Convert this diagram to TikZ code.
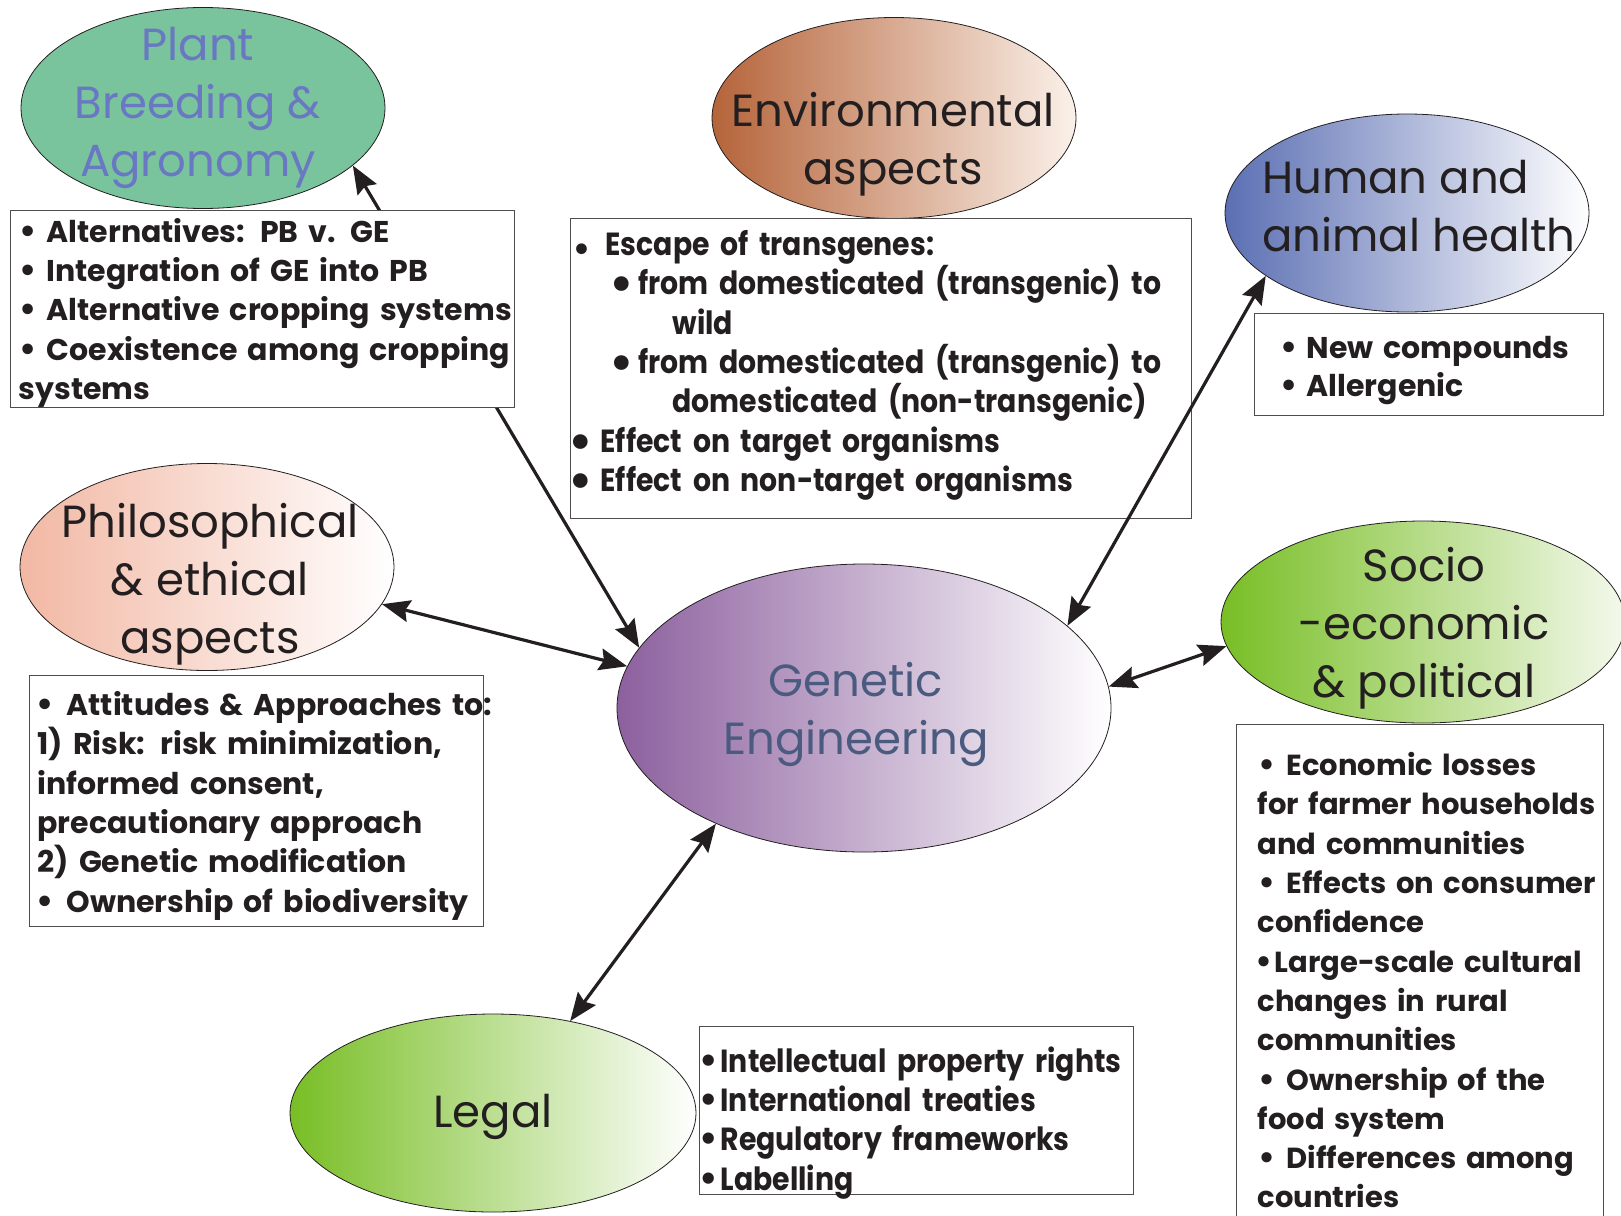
\documentclass[tikz,border=0pt]{standalone}
\usepackage{fontspec}
\setmainfont{Poppins}
\newfontfamily\condf[FakeStretch=0.885]{Poppins}
\newfontfamily\dejav{DejaVu Sans}
\usetikzlibrary{shapes.geometric,arrows.meta}
\definecolor{pbfill}{HTML}{79C39D}
\definecolor{pbtext}{HTML}{6A78C4}
\definecolor{envL}{HTML}{B5643A}
\definecolor{envR}{HTML}{FBF1EA}
\definecolor{humL}{HTML}{5B6FB3}
\definecolor{phiL}{HTML}{F2B8A4}
\definecolor{geL}{HTML}{8C609E}
\definecolor{getext}{HTML}{4B5B7F}
\definecolor{grL}{HTML}{78BE25}
\definecolor{grR}{HTML}{F4F9EC}
\definecolor{ink}{HTML}{231F20}
\newcommand\bul{{\dejav •}}
% bullet centred #1 pt from the left of the text column, text #2 pt further on
\newcommand\bi[2]{\hspace*{#1pt}\makebox[0pt]{\bul}\hspace*{#2pt}}
\newcommand\bbi[2]{\hspace*{#1pt}\makebox[0pt]{\raisebox{-5pt}{\scalebox{1.3}{\bul}}}\hspace*{#2pt}}
\newcommand\sbi[2]{\hspace*{#1pt}\makebox[0pt]{\raisebox{-5pt}{\scalebox{0.95}{\bul}}}\hspace*{#2pt}}
% first line (strut height), middle line, last line (strut depth)
\newcommand\Lf[2]{\mbox{\rule{0pt}{#1pt}\smash{#2}}}
\newcommand\Lm[1]{\mbox{\smash{#1}}}
\newcommand\Ll[2]{\mbox{\rule[-#1pt]{0pt}{#1pt}\smash{#2}}}
\tikzset{
  ell/.style={ellipse, draw=ink, line width=0.8pt, inner sep=0pt},
  title/.style={font=\fontsize{45}{58}\selectfont, text=ink, align=center, inner sep=0pt},
  txtbox/.style={draw=ink!80, line width=1.2pt, fill=white, anchor=north west, align=left,
     inner ysep=0pt, text=ink},
  conn/.style={line width=3.2pt, draw=ink, <->},
}
\begin{document}
\begin{tikzpicture}[x=1pt, y=-1pt, >={Stealth[length=28pt,width=22pt,inset=4pt]}]
\useasboundingbox[fill=white] (0,0) rectangle (1621,1215);

% ellipses
\node[ell, fill=pbfill, minimum width=364pt, minimum height=201pt] (pb) at (203,108) {};
\node[ell, left color=envL, right color=envR, minimum width=364pt, minimum height=201pt] (env) at (894,118) {};
\node[ell, left color=humL, right color=white, minimum width=364pt, minimum height=198pt] (hum) at (1407,213) {};
\node[ell, left color=phiL, right color=white, minimum width=374pt, minimum height=207pt] (phi) at (207,567) {};
\node[ell, left color=geL, right color=white, minimum width=494pt, minimum height=288pt] (ge) at (864,708) {};
\node[ell, left color=grL, right color=grR, minimum width=404pt, minimum height=202pt] (soc) at (1423,622) {};
\node[ell, left color=grL, right color=white, minimum width=406pt, minimum height=198pt] (leg) at (493,1113) {};

% titles
\node[title, text=pbtext] (pbt) at (198,108) {Plant\\Breeding \&\\Agronomy};
\node[title] (envt) at (893,144) {Environmental\\aspects};
\node[title, align=left, anchor=west] (humt) at (1262,206) {Human and\\animal health};
\node[title] (phit) at (210,584) {Philosophical\\\& ethical\\aspects};
\node[title, text=getext] (get) at (856,714) {Genetic\\Engineering};
\node[title] (soct) at (1424,628) {Socio\\-economic\\\& political};
\node[title] (legt) at (493,1117) {Legal};

% environmental box (under connectors)
\node[txtbox, font=\condf\bfseries\fontsize{32}{39.3}\selectfont, inner xsep=6pt, text width=609pt] (envb) at (570,217.5) {%
\Lf{37.5}{\sbi{5}{24}Escape of transgenes:}\\
\Lm{\bbi{45}{17}from domesticated (transgenic) to}\\
\Lm{\hspace*{96pt}wild}\\
\Lm{\bbi{45}{17}from domesticated (transgenic) to}\\
\Lm{\hspace*{96pt}domesticated (non-transgenic)}\\
\Lm{\bbi{4}{20}Effect on target organisms}\\
\Ll{27}{\bbi{4}{20}Effect on non-target organisms}};

% connectors
\draw[conn] (pb.-21) -- (ge.165.3);
\draw[conn] (phi.-12) -- (ge.170.3);
\draw[conn] (hum.-156.2) -- (ge.22.8);
\draw[conn] (soc.-173.5) -- (ge.5.1);
\draw[conn] (leg.50.6) -- (ge.-142.6);

% other boxes
\node[txtbox, font=\bfseries\fontsize{30}{39.15}\selectfont, inner xsep=8pt, text width=488pt] (pbb) at (10,209.5) {%
\Lf{32.5}{\bi{9}{19}Alternatives: PB v. GE}\\
\Lm{\bi{9}{19}Integration of GE into PB}\\
\Lm{\bi{9}{19}Alternative cropping systems}\\
\Lm{\bi{9}{19}Coexistence among cropping}\\
\Ll{8.5}{systems}};

\node[txtbox, font=\bfseries\fontsize{30}{37.5}\selectfont, inner xsep=20pt, text width=309pt] (humb) at (1254,313) {%
\Lf{45}{\bi{14}{18}New compounds}\\
\Ll{19.5}{\bi{14}{18}Allergenic}};

\node[txtbox, font=\bfseries\fontsize{30}{39.3}\selectfont, inner xsep=8pt, text width=438pt] (phib) at (29,674.5) {%
\Lf{40.5}{\bi{7}{22}Attitudes \& Approaches to:}\\
\Lm{1) Risk: risk minimization,}\\
\Lm{informed consent,}\\
\Lm{precautionary approach}\\
\Lm{2) Genetic modification}\\
\Ll{14}{\bi{7}{22}Ownership of biodiversity}};

\node[txtbox, font=\bfseries\fontsize{29}{39.3}\selectfont, inner xsep=21pt, text width=325pt] (socb) at (1236,724) {%
\Lf{51}{\bi{9}{20}Economic losses}\\
\Lm{for farmer households}\\
\Lm{and communities}\\
\Lm{\bi{9}{20}Effects on consumer}\\
\Lm{confidence}\\
\Lm{\bi{6}{11}Large-scale cultural}\\
\Lm{changes in rural}\\
\Lm{communities}\\
\Lm{\bi{9}{20}Ownership of the}\\
\Lm{food system}\\
\Lm{\bi{9}{20}Differences among}\\
\Ll{12}{countries}};

\node[txtbox, font=\condf\bfseries\fontsize{32}{39.3}\selectfont, inner xsep=4pt, text width=426pt] (legb) at (699,1026) {%
\Lf{45.7}{\bi{5}{12}Intellectual property rights}\\
\Lm{\bi{5}{12}International treaties}\\
\Lm{\bi{5}{12}Regulatory frameworks}\\
\Ll{4.4}{\bi{5}{12}Labelling}};
\end{tikzpicture}
\end{document}
